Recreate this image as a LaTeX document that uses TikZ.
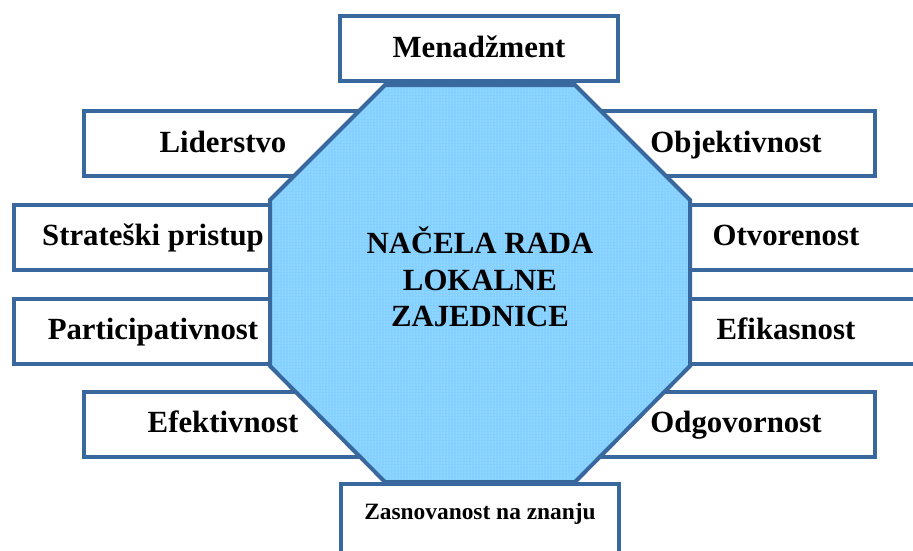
\documentclass[tikz,border=0pt]{standalone}
\usepackage{fontspec}
\setmainfont{Liberation Serif}
\usetikzlibrary{patterns}

\definecolor{edgeblue}{RGB}{56,104,158}
\definecolor{octblue}{RGB}{132,208,255}

\begin{document}
\begin{tikzpicture}[
    x=1pt, y=-1pt,
    principle/.style={rectangle, draw=edgeblue, line width=4pt, fill=white,
        minimum width=278pt, minimum height=65pt, inner sep=0pt,
        font=\fontsize{30.8}{37}\selectfont\bfseries,
        text height=22pt, text depth=5pt},
    small/.style={font=\fontsize{23.4}{28}\selectfont\bfseries,
        text height=17pt, text depth=4pt},
    octagon/.style={draw=edgeblue, line width=4pt, line join=miter,
        preaction={fill=octblue}, pattern=dots, pattern color=white!55!octblue}
]
    \useasboundingbox (0,0) rectangle (913,550);

    % Side boxes (behind) ----------------------------------------

    \node[principle] (lid) at (223,143.5) {Liderstvo};
    \node[principle] (str) at (153,237) {Strateški pristup};
    \node[principle] (par) at (153,331) {Participativnost};
    \node[principle] (efe) at (223,424) {Efektivnost};

    \node[principle] (obj) at (736,143.5) {Objektivnost};
    \node[principle] (otv) at (786,237) {Otvorenost};
    \node[principle] (efi) at (786,331) {Efikasnost};
    \node[principle] (odg) at (736,424) {Odgovornost};

    % Octagon ----------------------------------------------------

    \draw[octagon] (385,85) -- (575,85) -- (690,200) -- (690,366)
        -- (575,482) -- (385,482) -- (270,366) -- (270,200) -- cycle;

    \node[align=center, font=\fontsize{30.8}{36.5}\selectfont\bfseries]
        (core) at (480,277) {NAČELA RADA\\LOKALNE\\ZAJEDNICE};

    % Top and bottom boxes -----------------------------------------

    \node[principle] (men) at (479,48.5) {Menadžment};
    \node[principle, small, minimum height=72pt] (zas) at (480,520)
        {\raisebox{7.5pt}{Zasnovanost na znanju}};

\end{tikzpicture}
\end{document}
